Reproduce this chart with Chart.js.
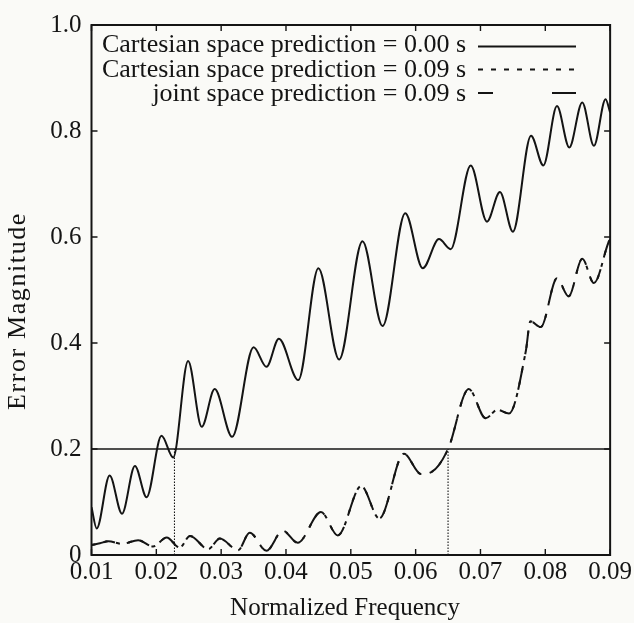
<!DOCTYPE html>
<html>
<head>
<meta charset="utf-8">
<script src="https://cdn.jsdelivr.net/npm/chart.js@4"></script>
<style>
  html, body { margin: 0; padding: 0; background: #fafaf7; }
  #wrap { width: 634px; height: 623px; }
</style>
</head>
<body>
<div id="wrap"><canvas id="c" width="634" height="623"></canvas></div>
<script>
// Axis ticks
const xTickValues = [0.01, 0.02, 0.03, 0.04, 0.05, 0.06, 0.07, 0.08, 0.09];
const xTickLabels = ['0.01', '0.02', '0.03', '0.04', '0.05', '0.06', '0.07', '0.08', '0.09'];
const yTickValues = [0, 0.2, 0.4, 0.6, 0.8, 1.0];
const yTickLabels = ['0', '0.2', '0.4', '0.6', '0.8', '1.0'];

const xAxisTitle = 'Normalized Frequency';
const yAxisTitle = 'Error Magnitude';

const seriesNames = [
  'Cartesian space prediction = 0.00 s',
  'Cartesian space prediction = 0.09 s',
  'joint space prediction = 0.09 s'
];

// Cartesian space prediction, 0.00 s
const cart000Freq = [0.0100, 0.0108, 0.0128, 0.0147, 0.0167, 0.0185, 0.0208, 0.0226, 0.0249, 0.0270,
                     0.0290, 0.0317, 0.0350, 0.0370, 0.0389, 0.0419, 0.0450, 0.0482, 0.0518, 0.0549,
                     0.0584, 0.0611, 0.0636, 0.0654, 0.0685, 0.0710, 0.0730, 0.0750, 0.0778, 0.0797,
                     0.0818, 0.0837, 0.0857, 0.0875, 0.0893, 0.0900];
const cart000Err  = [0.090, 0.050, 0.150, 0.078, 0.168, 0.109, 0.225, 0.184, 0.366, 0.242,
                     0.313, 0.223, 0.392, 0.355, 0.408, 0.330, 0.541, 0.369, 0.592, 0.432,
                     0.645, 0.541, 0.596, 0.577, 0.735, 0.629, 0.685, 0.610, 0.791, 0.735,
                     0.847, 0.769, 0.854, 0.772, 0.860, 0.835];

// Cartesian space prediction, 0.09 s
const cart009Freq = [0.0100, 0.0113, 0.0126, 0.0147, 0.0172, 0.0195, 0.0216, 0.0236, 0.0252, 0.0280,
                     0.0298, 0.0326, 0.0344, 0.0370, 0.0395, 0.0418, 0.0454, 0.0480, 0.0516, 0.0544,
                     0.0582, 0.0608, 0.0625, 0.0650, 0.0682, 0.0708, 0.0726, 0.0744, 0.0770, 0.0777,
                     0.0793, 0.0818, 0.0836, 0.0857, 0.0875, 0.0898, 0.0900];
const cart009Err  = [0.019, 0.022, 0.026, 0.021, 0.028, 0.016, 0.033, 0.014, 0.036, 0.011,
                     0.031, 0.009, 0.042, 0.008, 0.046, 0.023, 0.081, 0.037, 0.130, 0.069,
                     0.191, 0.153, 0.157, 0.200, 0.313, 0.258, 0.274, 0.267, 0.385, 0.441,
                     0.430, 0.522, 0.488, 0.559, 0.513, 0.591, 0.595];

// Joint space prediction, 0.09 s
const joint009Freq = [0.0100, 0.0113, 0.0126, 0.0147, 0.0172, 0.0195, 0.0216, 0.0236, 0.0252, 0.0280,
                      0.0298, 0.0326, 0.0344, 0.0370, 0.0395, 0.0418, 0.0454, 0.0480, 0.0516, 0.0544,
                      0.0582, 0.0608, 0.0625, 0.0650, 0.0682, 0.0708, 0.0726, 0.0744, 0.0770, 0.0777,
                      0.0793, 0.0818, 0.0836, 0.0857, 0.0875, 0.0898, 0.0900];
const joint009Err  = [0.019, 0.022, 0.026, 0.021, 0.028, 0.016, 0.033, 0.014, 0.036, 0.011,
                      0.031, 0.009, 0.042, 0.008, 0.046, 0.023, 0.081, 0.037, 0.130, 0.069,
                      0.191, 0.153, 0.157, 0.200, 0.313, 0.258, 0.274, 0.267, 0.385, 0.441,
                      0.430, 0.522, 0.488, 0.559, 0.513, 0.591, 0.595];

// Error threshold and the frequencies where each prediction crosses it
const errorThreshold = 0.2;
const crossingFreqs = [0.0228, 0.065];

const INK = '#141414';
const SERIF = '"Liberation Serif", "Times New Roman", serif';

const toPoints = (xs, ys) => xs.map((x, i) => ({ x: x, y: ys[i] }));

const datasets = [
  {
    label: seriesNames[0],
    data: toPoints(cart000Freq, cart000Err),
    borderColor: INK, borderWidth: 2,
    cubicInterpolationMode: 'monotone'
  },
  {
    label: seriesNames[1],
    data: toPoints(cart009Freq, cart009Err),
    borderColor: INK, borderWidth: 2, borderDash: [4, 8.5],
    cubicInterpolationMode: 'monotone'
  },
  {
    label: seriesNames[2],
    data: toPoints(joint009Freq, joint009Err),
    borderColor: INK, borderWidth: 2, borderDash: [24, 12],
    cubicInterpolationMode: 'monotone'
  },
  {
    label: 'threshold',
    data: [{ x: xTickValues[0], y: errorThreshold }, { x: xTickValues[xTickValues.length - 1], y: errorThreshold }],
    borderColor: INK, borderWidth: 1.6
  }
];
crossingFreqs.forEach(f => {
  datasets.push({
    label: 'crossing',
    data: [{ x: f, y: 0 }, { x: f, y: errorThreshold }],
    borderColor: INK, borderWidth: 1.1, borderDash: [1.5, 1.5]
  });
});

// Frame, inward ticks, legend and axis titles
const framePlugin = {
  id: 'frame',
  afterDatasetsDraw(chart) {
    const { ctx, chartArea: a, scales } = chart;
    ctx.save();
    ctx.strokeStyle = INK;
    ctx.fillStyle = INK;
    ctx.lineWidth = 2;
    ctx.setLineDash([]);
    ctx.strokeRect(a.left, a.top, a.right - a.left, a.bottom - a.top);

    ctx.lineWidth = 1.4;
    const tl = 6;
    ctx.beginPath();
    xTickValues.forEach(v => {
      const px = scales.x.getPixelForValue(v);
      ctx.moveTo(px, a.bottom); ctx.lineTo(px, a.bottom - tl);
      ctx.moveTo(px, a.top); ctx.lineTo(px, a.top + tl);
    });
    yTickValues.forEach(v => {
      const py = scales.y.getPixelForValue(v);
      ctx.moveTo(a.left, py); ctx.lineTo(a.left + tl, py);
      ctx.moveTo(a.right, py); ctx.lineTo(a.right - tl, py);
    });
    ctx.stroke();

    // Legend: right-aligned labels with line samples to their right
    ctx.font = '26px ' + SERIF;
    ctx.textAlign = 'right';
    ctx.textBaseline = 'alphabetic';
    const rows = [
      { base: 52, line: 46.5, dash: [] },
      { base: 77, line: 69.5, dash: [5, 8] },
      { base: 101, line: 93, dash: [15, 59, 30, 0] }
    ];
    rows.forEach((r, i) => {
      ctx.fillText(chart.data.datasets[i].label, 466, r.base);
      ctx.beginPath();
      ctx.lineWidth = 1.9;
      ctx.setLineDash(r.dash);
      ctx.moveTo(478, r.line); ctx.lineTo(576, r.line);
      ctx.stroke();
    });
    ctx.setLineDash([]);

    // Axis titles
    ctx.textAlign = 'center';
    ctx.font = '25px ' + SERIF;
    ctx.fillText(xAxisTitle, 345, 615);

    ctx.save();
    ctx.translate(25, 311);
    ctx.rotate(-Math.PI / 2);
    ctx.font = '26px ' + SERIF;
    if ('letterSpacing' in ctx) ctx.letterSpacing = '1.6px';
    ctx.fillText(yAxisTitle, 0, 0);
    ctx.restore();

    ctx.restore();
  }
};

new Chart(document.getElementById('c'), {
  type: 'line',
  data: { datasets: datasets },
  options: {
    responsive: false,
    animation: false,
    events: [],
    layout: { padding: { left: 0, top: 22, right: 22, bottom: 0 } },
    elements: { point: { radius: 0 }, line: { tension: 0 } },
    plugins: { legend: { display: false }, tooltip: { enabled: false } },
    scales: {
      x: {
        type: 'linear',
        min: xTickValues[0],
        max: xTickValues[xTickValues.length - 1],
        afterBuildTicks: s => { s.ticks = xTickValues.map(v => ({ value: v })); },
        afterFit: s => { s.height = 68; },
        grid: { display: false, drawTicks: false },
        border: { display: false },
        ticks: {
          padding: 2,
          color: INK,
          font: { family: SERIF, size: 25 },
          maxRotation: 0,
          autoSkip: false,
          callback: (v, i) => xTickLabels[i]
        }
      },
      y: {
        type: 'linear',
        min: yTickValues[0],
        max: yTickValues[yTickValues.length - 1],
        afterBuildTicks: s => { s.ticks = yTickValues.map(v => ({ value: v })); },
        afterFit: s => { s.width = 91.5; },
        grid: { display: false, drawTicks: false },
        border: { display: false },
        ticks: {
          padding: 10,
          color: INK,
          font: { family: SERIF, size: 25 },
          autoSkip: false,
          callback: (v, i) => yTickLabels[i]
        }
      }
    }
  },
  plugins: [framePlugin]
});
</script>
</body>
</html>
